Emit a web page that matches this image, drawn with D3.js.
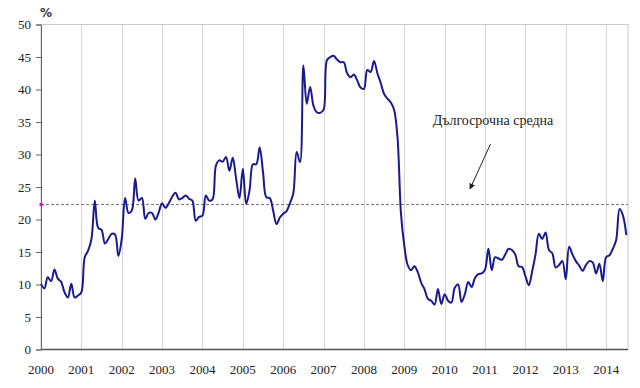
<!DOCTYPE html>
<html>
<head>
<meta charset="utf-8">
<script src="https://cdn.jsdelivr.net/npm/d3@7"></script>
<style>
  body { margin: 0; background: #fff; }
</style>
</head>
<body>
<div id="chart"></div>
<script>
// monthly values, Jan 2000 .. Jul 2014 (%)
const values = [
  10.1, 9.4, 11.1, 10.5, 12.3, 10.9, 10.4, 8.8, 8.0, 10.1, 8.0, 8.3,
  8.8, 14.2, 15.2, 17.0, 22.9, 18.7, 18.4, 16.3, 17.0, 17.8, 17.7, 14.4,
  17.0, 23.3, 21.0, 21.4, 26.3, 22.9, 23.3, 20.1, 21.0, 21.0, 20.0, 21.1,
  22.5, 21.8, 22.5, 23.5, 24.1, 23.1, 23.3, 23.7, 23.2, 22.9, 19.8, 20.4,
  20.6, 23.7, 22.9, 23.1, 28.3, 29.1, 28.9, 29.6, 27.5, 29.5, 26.3, 23.3,
  27.8, 22.4, 24.5, 28.5, 28.5, 31.1, 27.3, 23.4, 23.3, 21.4, 19.3, 20.3,
  20.9, 21.3, 22.5, 24.0, 30.4, 28.8, 43.7, 37.8, 40.4, 37.5, 36.5, 36.4,
  36.9, 44.5, 45.0, 45.2, 44.6, 44.2, 44.2, 42.5, 41.9, 42.3, 41.4, 40.3,
  40.1, 43.0, 42.7, 44.4, 42.5, 41.0, 39.3, 38.6, 38.0, 36.8, 32.5, 21.0,
  16.0, 13.0, 12.2, 12.8, 11.9, 10.3, 9.3, 7.8, 7.5, 6.9, 9.3, 7.0,
  8.5, 7.5, 7.2, 9.5, 10.0, 7.3, 8.5, 10.4, 9.6, 11.0, 11.6, 11.7,
  12.3, 15.5, 12.2, 14.2, 14.0, 13.8, 14.6, 15.5, 15.3, 14.6, 12.8, 12.7,
  11.3, 9.9, 12.0, 14.6, 17.8, 17.0, 18.0, 15.3, 14.8, 12.6, 13.0, 13.6,
  10.8, 15.8, 14.6, 13.6, 12.9, 12.1, 13.0, 13.6, 13.4, 11.7, 13.2, 10.5,
  14.2, 14.5, 15.5, 16.9, 21.6, 20.6, 17.6
];
const startYear = 2000;
const years = d3.range(2000, 2015);
const yTicks = d3.range(0, 51, 5);
const longTermAvg = 22.3;
const avgLabel = "Дългосрочна средна";
const unitLabel = "%";

const width = 640;
const height = 388;
const margin = { top: 24.5, right: 12, bottom: 38.5, left: 41 };
const serif = "'Liberation Serif', 'DejaVu Serif', serif";

const svg = d3.select("#chart").append("svg").attr("width", width).attr("height", height);

const x = d3.scaleLinear().domain([0, values.length - 0.5]).range([margin.left, width - margin.right]);
const y = d3.scaleLinear().domain([0, 50]).range([height - margin.bottom, margin.top]);

// frame
svg.append("rect")
  .attr("x", margin.left).attr("y", margin.top)
  .attr("width", x.range()[1] - margin.left).attr("height", y(0) - margin.top)
  .attr("fill", "none").attr("stroke", "#c8c8c8").attr("stroke-width", 1);

// vertical year gridlines
svg.append("g").selectAll("line")
  .data(years.slice(1))
  .join("line")
  .attr("x1", d => Math.round(x((d - startYear) * 12)) + 0.5)
  .attr("x2", d => Math.round(x((d - startYear) * 12)) + 0.5)
  .attr("y1", margin.top).attr("y2", y(0))
  .attr("stroke", "#d4d4d4").attr("stroke-width", 1);

// y axis
const yAxis = d3.axisLeft(y).tickValues(yTicks).tickSize(5).tickPadding(5);
const yAxisGroup = svg.append("g").attr("transform", `translate(${margin.left},0)`).call(yAxis);
yAxisGroup.attr("font-family", null).attr("font-size", null);
yAxisGroup.select(".domain").attr("stroke", "#666");
yAxisGroup.selectAll(".tick line").attr("stroke", "#666");
yAxisGroup.selectAll("text")
  .style("font-family", serif).style("font-size", "13px").attr("fill", "#222");

// x axis
const xAxisGroup = svg.append("g").attr("transform", `translate(0,${y(0)})`);
xAxisGroup.append("line")
  .attr("x1", margin.left).attr("x2", x.range()[1])
  .attr("stroke", "#555").attr("stroke-width", 1.3);
xAxisGroup.selectAll("text")
  .data(years)
  .join("text")
  .attr("x", d => x((d - startYear) * 12))
  .attr("y", 24)
  .attr("text-anchor", "middle")
  .style("font-family", serif).style("font-size", "13px").attr("fill", "#222")
  .text(d => d);

// unit label
svg.append("text").attr("x", 46).attr("y", 17).attr("text-anchor", "middle")
  .style("font-size", "12px").style("font-weight", "bold").style("font-family", "'DejaVu Sans', sans-serif")
  .attr("fill", "#333").text(unitLabel);

// long-term average
svg.append("line")
  .attr("x1", margin.left).attr("x2", x.range()[1])
  .attr("y1", y(longTermAvg)).attr("y2", y(longTermAvg))
  .attr("stroke", "#777").attr("stroke-width", 1).attr("stroke-dasharray", "3,2");
svg.append("rect")
  .attr("x", margin.left - 1.5).attr("y", y(longTermAvg) - 1.5)
  .attr("width", 3).attr("height", 3).attr("fill", "#e000d8");

// series line
const line = d3.line().x((d, i) => x(i)).y(d => y(d)).curve(d3.curveCatmullRom.alpha(0.5));
svg.append("path")
  .datum(values)
  .attr("fill", "none")
  .attr("stroke", "#1a1a8f")
  .attr("stroke-width", 2)
  .attr("d", line);

// annotation
svg.append("defs").append("marker")
  .attr("id", "arrow").attr("viewBox", "0 0 10 10").attr("refX", 9).attr("refY", 5)
  .attr("markerWidth", 6).attr("markerHeight", 6).attr("orient", "auto")
  .append("path").attr("d", "M0,0L10,5L0,10z").attr("fill", "#222");
svg.append("text").attr("x", 493).attr("y", 125).attr("text-anchor", "middle")
  .style("font-family", serif).style("font-size", "14px").attr("fill", "#222").text(avgLabel);
svg.append("line")
  .attr("x1", 490.5).attr("y1", 144).attr("x2", 470).attr("y2", 189)
  .attr("stroke", "#222").attr("stroke-width", 1).attr("marker-end", "url(#arrow)");
</script>
</body>
</html>
